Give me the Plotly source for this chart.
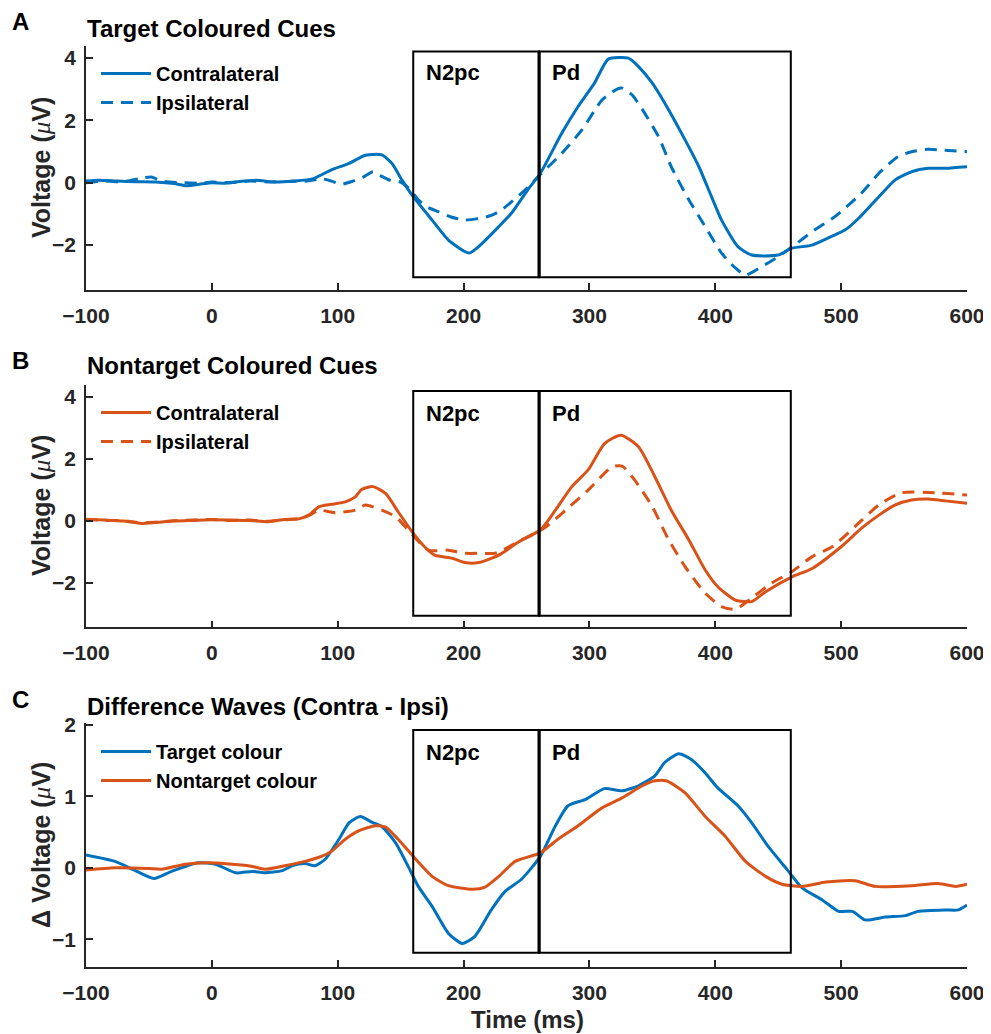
import plotly.graph_objects as go

BLUE = "#0072BD"
ORANGE = "#D95319"
AXC = "#262626"
FONT = "Liberation Sans"

# ---------------- Data ----------------
# Panel A: Target coloured cues
a_contra_t = [-100, -90, -75, -60, -45, -30, -20, -10, 0, 10, 20, 35, 50, 65, 80, 95, 109, 122, 135, 143,
              151, 160, 175, 188, 201, 205, 212, 228, 238, 251, 261, 278, 291, 304, 315, 331, 339, 350, 363,
              376, 387, 397, 405, 418, 429, 450, 461, 477, 492, 503, 514, 530, 543, 556, 569, 583, 600]
a_contra_v = [0.05, 0.08, 0.05, 0.03, 0.02, -0.03, -0.10, -0.05, 0.00, -0.02, 0.03, 0.08, 0.02, 0.05, 0.12,
              0.41, 0.62, 0.88, 0.89, 0.62, 0.09, -0.45, -1.20, -1.84, -2.21, -2.25, -2.05, -1.41, -0.98,
              -0.23, 0.30, 1.58, 2.44, 3.19, 3.96, 3.99, 3.72, 3.19, 2.33, 1.37, 0.51, -0.45, -1.20, -2.05,
              -2.32, -2.32, -2.10, -2.00, -1.73, -1.52, -1.14, -0.45, 0.09, 0.35, 0.46, 0.46, 0.51]

a_ipsi_t = [-100, -85, -70, -55, -48, -40, -25, -10, 0, 15, 30, 45, 60, 75, 88, 95, 103, 112, 120, 128, 135,
            142, 150, 157, 164, 172, 180, 190, 201, 212, 222, 230, 249, 262, 278, 294, 310, 322, 326, 334,
            344, 355, 365, 379, 392, 405, 415, 424, 437, 450, 463, 477, 495, 516, 530, 545, 556, 569, 582, 600]
a_ipsi_v = [0.00, 0.05, 0.03, 0.15, 0.18, 0.05, 0.00, -0.02, 0.02, 0.00, 0.05, 0.02, 0.04, 0.05, 0.12, 0.05,
            -0.05, 0.05, 0.17, 0.35, 0.20, 0.07, 0.02, -0.20, -0.55, -0.80, -0.93, -1.10, -1.20, -1.15, -1.05,
            -0.88, -0.23, 0.30, 0.94, 1.69, 2.65, 3.00, 3.03, 2.81, 2.22, 1.47, 0.51, -0.55, -1.41, -2.26,
            -2.70, -2.96, -2.69, -2.37, -2.00, -1.57, -1.09, -0.34, 0.30, 0.83, 0.99, 1.07, 1.04, 0.99]

# Panel B: Nontarget coloured cues
b_contra_t = [-100, -85, -70, -56, -45, -30, -15, 0, 15, 30, 45, 58, 69, 77, 85, 95, 106, 114, 119, 128, 138,
              148, 159, 169, 177, 191, 201, 212, 228, 244, 261, 273, 286, 299, 312, 325, 339, 352, 365, 379,
              392, 402, 416, 429, 440, 461, 477, 500, 516, 530, 543, 556, 569, 583, 600]
b_contra_v = [0.05, 0.03, 0.00, -0.08, -0.05, 0.00, 0.02, 0.04, 0.03, 0.02, -0.02, 0.05, 0.07, 0.19, 0.46,
              0.54, 0.62, 0.78, 1.02, 1.11, 0.89, 0.30, -0.34, -0.83, -1.10, -1.20, -1.34, -1.34, -1.10,
              -0.67, -0.29, 0.35, 1.11, 1.65, 2.50, 2.77, 2.40, 1.43, 0.35, -0.61, -1.58, -2.12, -2.55,
              -2.60, -2.28, -1.80, -1.53, -0.83, -0.24, 0.19, 0.52, 0.68, 0.71, 0.65, 0.57]

b_ipsi_t = [-100, -85, -70, -56, -45, -30, -15, 0, 15, 30, 45, 58, 70, 78, 85, 98, 114, 122, 135, 146, 156,
            172, 188, 201, 214, 225, 246, 265, 281, 299, 318, 326, 336, 350, 363, 376, 392, 405, 416, 430,
            445, 461, 477, 493, 511, 530, 548, 575, 600]
b_ipsi_v = [0.06, 0.02, 0.01, -0.06, -0.04, 0.01, 0.03, 0.05, 0.02, 0.03, -0.01, 0.04, 0.08, 0.20, 0.35,
            0.27, 0.35, 0.52, 0.35, 0.14, -0.29, -0.94, -0.94, -1.04, -1.04, -1.04, -0.61, -0.20, 0.35,
            1.00, 1.75, 1.77, 1.32, 0.46, -0.61, -1.47, -2.33, -2.76, -2.85, -2.45, -2.00, -1.63, -1.15,
            -0.83, -0.18, 0.52, 0.91, 0.91, 0.84]

# Panel C: Difference waves (contra - ipsi)
c_target_t = [-100, -77, -63, -46, -32, -11, 3, 19, 32, 42, 56, 64, 74, 82, 90, 101, 109, 118, 127, 135,
              146, 156, 164, 175, 188, 199, 209, 222, 233, 246, 261, 273, 283, 297, 312, 326, 339, 352, 360,
              371, 381, 392, 402, 418, 429, 442, 456, 469, 485, 498, 509, 519, 535, 551, 561, 582, 593, 600]
c_target_v = [0.18, 0.09, -0.02, -0.15, -0.05, 0.07, 0.05, -0.07, -0.05, -0.07, -0.04, 0.03, 0.06, 0.03,
              0.12, 0.40, 0.63, 0.72, 0.64, 0.58, 0.35, 0.02, -0.26, -0.54, -0.92, -1.06, -0.96, -0.59,
              -0.33, -0.16, 0.16, 0.59, 0.87, 0.96, 1.11, 1.08, 1.15, 1.29, 1.48, 1.60, 1.52, 1.33, 1.12,
              0.87, 0.63, 0.30, 0.00, -0.28, -0.45, -0.61, -0.61, -0.73, -0.69, -0.67, -0.61, -0.59,
              -0.59, -0.52]

c_nontarget_t = [-100, -77, -50, -40, -21, -5, 16, 32, 42, 58, 74, 87, 95, 106, 117, 130, 138, 148, 162,
                 175, 188, 207, 217, 228, 241, 261, 275, 291, 310, 326, 342, 352, 361, 376, 392, 408, 424,
                 440, 453, 469, 488, 511, 527, 556, 577, 591, 600]
c_nontarget_v = [-0.03, 0.00, -0.01, -0.02, 0.05, 0.07, 0.05, 0.02, -0.02, 0.03, 0.09, 0.16, 0.23, 0.40,
                 0.52, 0.59, 0.57, 0.40, 0.12, -0.12, -0.25, -0.30, -0.27, -0.12, 0.09, 0.21, 0.40, 0.59,
                 0.84, 0.98, 1.15, 1.22, 1.22, 1.05, 0.72, 0.44, 0.09, -0.12, -0.23, -0.26, -0.20, -0.18,
                 -0.26, -0.25, -0.22, -0.26, -0.23]

x_ticks = [-100, 0, 100, 200, 300, 400, 500, 600]
y_ticks_ab = [-2, 0, 2, 4]
y_ticks_c = [-1, 0, 1, 2]

windows = [(160, 260, "N2pc"), (260, 460, "Pd")]

# ---------------- Figure ----------------
# The page body adds an 8px margin; work in screenshot pixels and convert.
OFF = 8
W, H = 991 - OFF, 1034 - OFF

def px(x):
    return (x - OFF) / W

def py(y):
    return 1 - (y - OFF) / H

XD = [px(86), px(967)]
YD = {
    1: [py(290), py(46)],
    2: [py(627.3), py(385)],
    3: [py(967), py(723)],
}
YR = {1: [-3.44, 4.38], 2: [-3.43, 4.39], 3: [-1.39, 2.03]}

fig = go.Figure()
line_kw = dict(shape="spline", smoothing=0.6, width=3)

def add(t, v, color, name, dash, idx, legend):
    ln = dict(color=color, **line_kw)
    if dash:
        ln["dash"] = "12px,8px"
    fig.add_trace(go.Scatter(
        x=t, y=v, mode="lines", name=name, line=ln,
        xaxis="x" if idx == 1 else f"x{idx}", yaxis="y" if idx == 1 else f"y{idx}",
        legend=legend, showlegend=True, hoverinfo="skip",
    ))

add(a_contra_t, a_contra_v, BLUE, "Contralateral", False, 1, "legend")
add(a_ipsi_t, a_ipsi_v, BLUE, "Ipsilateral", True, 1, "legend")
add(b_contra_t, b_contra_v, ORANGE, "Contralateral", False, 2, "legend2")
add(b_ipsi_t, b_ipsi_v, ORANGE, "Ipsilateral", True, 2, "legend2")
add(c_target_t, c_target_v, BLUE, "Target colour", False, 3, "legend3")
add(c_nontarget_t, c_nontarget_v, ORANGE, "Nontarget colour", False, 3, "legend3")

tickfont = dict(family=FONT, size=21, color=AXC, weight="bold")
axis_common = dict(
    showline=True, linecolor=AXC, linewidth=1.5, ticks="inside", ticklen=7, tickwidth=1.5,
    tickcolor=AXC, showgrid=False, zeroline=False, mirror=False, tickfont=tickfont,
    automargin=False,
)

layout = dict(
    width=W, height=H, margin=dict(l=0, r=0, t=0, b=0, autoexpand=False),
    paper_bgcolor="white", plot_bgcolor="white",
    showlegend=True,
)
for i in (1, 2, 3):
    xs = "xaxis" if i == 1 else f"xaxis{i}"
    ys = "yaxis" if i == 1 else f"yaxis{i}"
    layout[xs] = dict(axis_common, domain=XD, range=[-100, 600], tickvals=x_ticks,
                      anchor="y" if i == 1 else f"y{i}", ticklabelstandoff=6)
    layout[ys] = dict(axis_common, domain=YD[i], range=YR[i],
                      tickvals=y_ticks_c if i == 3 else y_ticks_ab,
                      anchor="x" if i == 1 else f"x{i}", ticklabelstandoff=4)

leg_common = dict(bgcolor="rgba(0,0,0,0)", borderwidth=0, xanchor="left", yanchor="top",
                  font=dict(family=FONT, size=20, color="black", weight="bold"),
                  tracegroupgap=0, itemwidth=50)
layout["legend"] = dict(leg_common, x=px(96), y=py(54))
layout["legend2"] = dict(leg_common, x=px(96), y=py(393))
layout["legend3"] = dict(leg_common, x=px(96), y=py(732))

fig.update_layout(**layout)

# Component windows (boxes) and labels
box_y = {1: (0.052, 0.977), 2: (0.048, 0.975), 3: (0.058, 0.971)}
label_y = {1: 72, 2: 413, 3: 752}
for i in (1, 2, 3):
    xr = "x" if i == 1 else f"x{i}"
    yr = ("y" if i == 1 else f"y{i}") + " domain"
    for (x0, x1, lab) in windows:
        fig.add_shape(type="rect", xref=xr, yref=yr, x0=x0, x1=x1, y0=box_y[i][0], y1=box_y[i][1],
                      line=dict(color="black", width=2), fillcolor="rgba(0,0,0,0)", layer="above")
        fig.add_annotation(xref=xr, yref="paper", x=x0, y=py(label_y[i]), xshift=11,
                           xanchor="left", yanchor="middle", showarrow=False, text=lab,
                           font=dict(family=FONT, size=22, color="black", weight="bold"))
    # shared border between the two windows is drawn heavier
    xb = windows[0][1]
    fig.add_shape(type="line", xref=xr, yref=yr, x0=xb, x1=xb, y0=box_y[i][0], y1=box_y[i][1],
                  line=dict(color="black", width=3.2), layer="above")

# Panel titles and letters
titles = [("A", "Target Coloured Cues", 22, 28), ("B", "Nontarget Coloured Cues", 360, 366),
          ("C", "Difference Waves (Contra - Ipsi)", 699, 706)]
for letter, title, ly, ty in titles:
    fig.add_annotation(xref="paper", yref="paper", x=px(10), y=py(ly), xanchor="left",
                       yanchor="middle", showarrow=False, text=letter,
                       font=dict(family=FONT, size=24, color="black", weight="bold"))
    fig.add_annotation(xref="paper", yref="paper", x=px(85), y=py(ty), xanchor="left",
                       yanchor="middle", showarrow=False, text=title,
                       font=dict(family=FONT, size=24, color="black", weight="bold"))

# Axis titles
MU = "<span style=\"font-family:'Liberation Serif';font-weight:normal\"><i>μ</i></span>"
ytitles = [(f"Voltage ({MU}V)", 168), (f"Voltage ({MU}V)", 506), (f"Δ Voltage ({MU}V)", 845)]
for txt, yc in ytitles:
    fig.add_annotation(xref="paper", yref="paper", x=px(41), y=py(yc), xanchor="center",
                       yanchor="middle", showarrow=False, text=txt, textangle=-90,
                       font=dict(family=FONT, size=25, color=AXC, weight="bold"))
fig.add_annotation(xref="paper", yref="paper", x=px(527), y=py(1019), xanchor="center",
                   yanchor="middle", showarrow=False, text="Time (ms)",
                   font=dict(family=FONT, size=24, color=AXC, weight="bold"))

fig.write_html("out.html")
